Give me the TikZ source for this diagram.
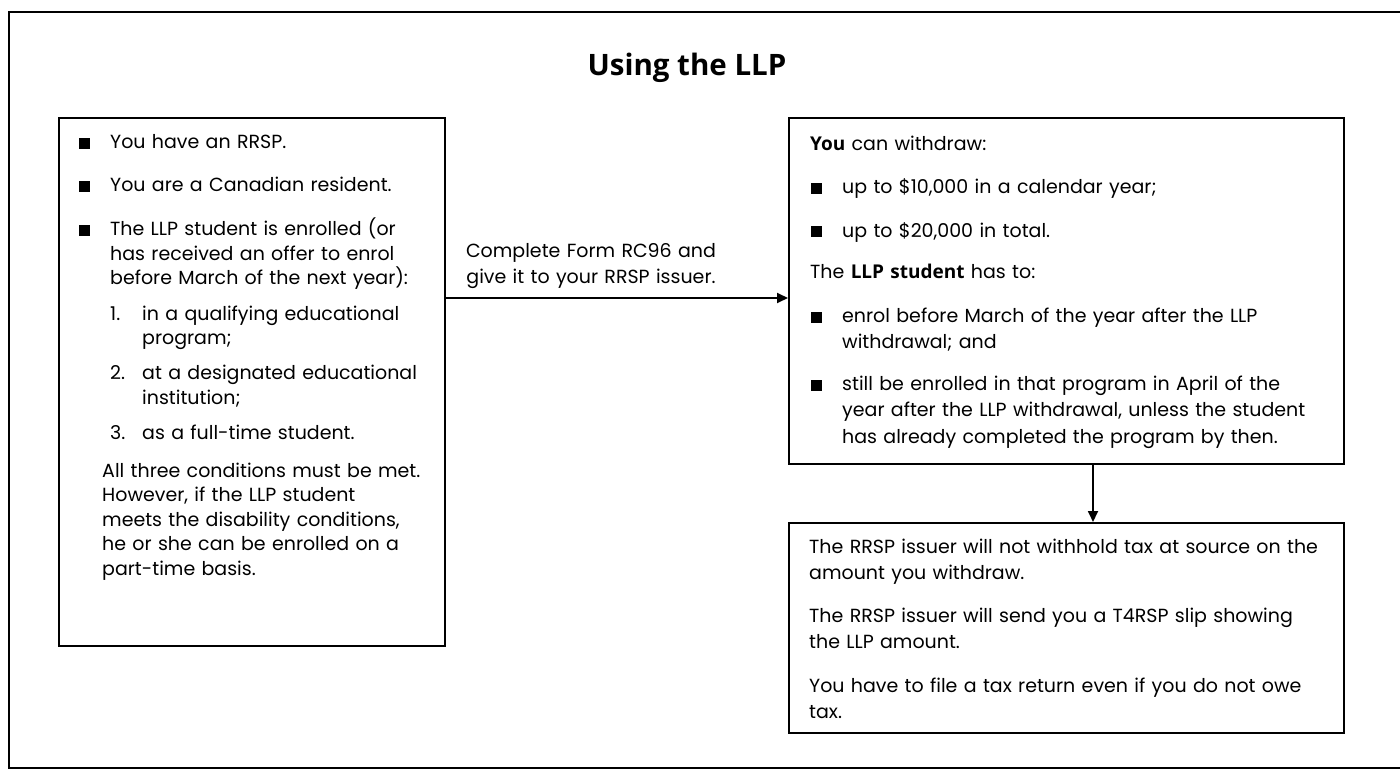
\documentclass[tikz,border=0pt]{standalone}
\usepackage{fontspec}
\setmainfont{Poppins}
\newfontfamily\headfont{Open Sans}
\usetikzlibrary{arrows.meta}
\newcommand{\bsf}[1]{{\headfont\bfseries #1}}
\tikzset{
  box/.style={draw, line width=1.8pt, anchor=north west, inner sep=0pt},
  sq/.style={fill, minimum size=11pt, inner sep=0pt},
  txt/.style={anchor=base west, inner sep=0pt, text width=520pt, align=left,
    font=\fontsize{19}{26.5}\selectfont},
  ltxt/.style={txt, font=\fontsize{19}{24.5}\selectfont},
  link/.style={line width=1.8pt, -{Triangle[length=11pt,width=10pt]}}
}
\begin{document}
\begin{tikzpicture}[x=1pt,y=-1pt]
  \useasboundingbox (0,0) rectangle (1400,770);
  \draw[line width=2pt] (9,12) rectangle (1404,768);
  \node[anchor=base, font=\headfont\bfseries\fontsize{29.5}{34}\selectfont] (title) at (687,76) {Using the LLP};

  % boxes
  \node[box, minimum width=386pt, minimum height=528pt] (need) at (58,117) {};
  \node[box, minimum width=555pt, minimum height=346pt] (wdraw) at (788,117) {};
  \node[box, minimum width=555pt, minimum height=210pt] (after) at (788,522) {};

  % left box
  \foreach \y [count=\i] in {144,187,231}
    \node[sq] (lb\i) at (84,\y) {};
  \node[ltxt] (l1) at (110,149) {You have an RRSP.};
  \node[ltxt] (l2) at (110,192) {You are a Canadian resident.};
  \node[ltxt] (l3) at (110,236) {The LLP student is enrolled (or\\ has received an offer to enrol\\ before March of the next year):};
  \node[ltxt] (n1) at (110,320) {1.};
  \node[ltxt] (c1) at (142,320) {in a qualifying educational\\ program;};
  \node[ltxt] (n2) at (110,379.5) {2.};
  \node[ltxt] (c2) at (142,379.5) {at a designated educational\\ institution;};
  \node[ltxt] (n3) at (110,439) {3.};
  \node[ltxt] (c3) at (142,439) {as a full-time student.};
  \node[ltxt] (l4) at (102,477) {All three conditions must be met.\\ However, if the LLP student\\ meets the disability conditions,\\ he or she can be enrolled on a\\ part-time basis.};

  % arrow to the withdrawal box
  \coordinate (form) at (444,298);
  \draw[link] (form) -- (form -| wdraw.west);
  \node[txt, anchor=base, text width=300pt, align=center] (step) at (591,257) {Complete Form RC96 and\\ give it to your RRSP issuer.};

  % right top box
  \foreach \y [count=\i] in {189,232,317,385}
    \node[sq] (rb\i) at (816,\y) {};
  \node[txt] (r1) at (810,151) {\bsf{You} can withdraw:};
  \node[txt] (r2) at (842,194) {up to \$10,000 in a calendar year;};
  \node[txt] (r3) at (842,237) {up to \$20,000 in total.};
  \node[txt] (r4) at (810,278) {The \bsf{LLP student} has to:};
  \node[txt] (r5) at (842,322) {enrol before March of the year after the LLP\\ withdrawal; and};
  \node[txt] (r6) at (842,390) {still be enrolled in that program in April of the\\ year after the LLP withdrawal, unless the student\\ has already completed the program by then.};

  % down to the last box
  \coordinate (next) at (1093,463);
  \draw[link] (next) -- (next |- after.north);
  \node[txt] (a1) at (809,553) {The RRSP issuer will not withhold tax at source on the\\ amount you withdraw.};
  \node[txt] (a2) at (809,622) {The RRSP issuer will send you a T4RSP slip showing\\ the LLP amount.};
  \node[txt] (a3) at (809,692) {You have to file a tax return even if you do not owe\\ tax.};
\end{tikzpicture}
\end{document}
